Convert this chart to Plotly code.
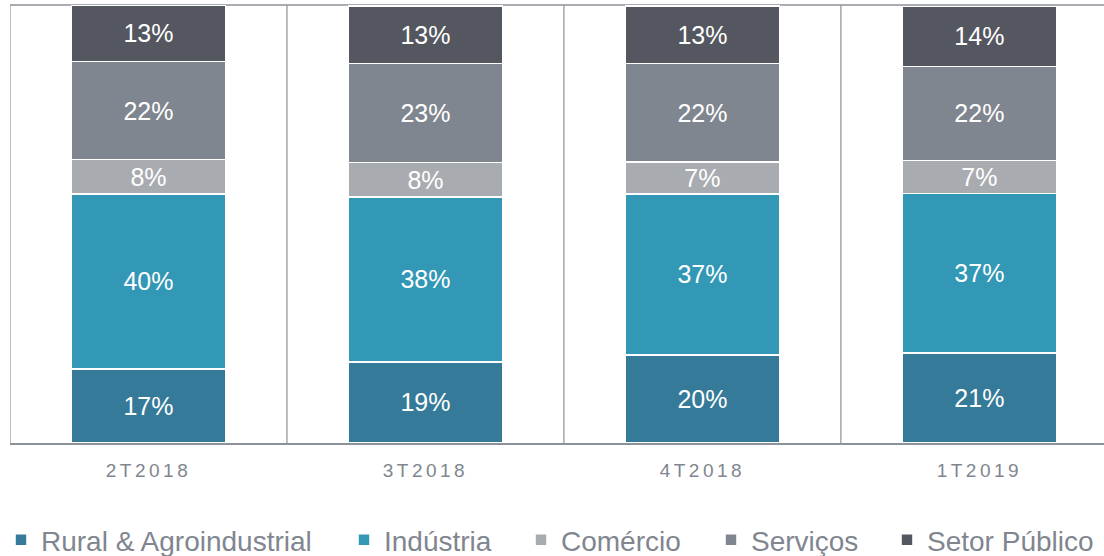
import plotly.graph_objects as go

categories = ["2T2018", "3T2018", "4T2018", "1T2019"]

rural = [16.9, 18.5, 20.1, 20.5]
industria = [40.0, 37.7, 36.8, 36.5]
comercio = [7.8, 7.8, 7.3, 7.5]
servicos = [22.4, 22.6, 22.4, 21.5]
setor_publico = [12.8, 13.2, 13.2, 13.7]

rural_lbl = ["17%", "19%", "20%", "21%"]
industria_lbl = ["40%", "38%", "37%", "37%"]
comercio_lbl = ["8%", "8%", "7%", "7%"]
servicos_lbl = ["22%", "23%", "22%", "22%"]
setor_lbl = ["13%", "13%", "13%", "14%"]

series_names = ["Rural & Agroindustrial", "Indústria", "Comércio", "Serviços", "Setor Público"]
series_values = [rural, industria, comercio, servicos, setor_publico]
series_labels = [rural_lbl, industria_lbl, comercio_lbl, servicos_lbl, setor_lbl]
series_colors = ["#357A99", "#3397B6", "#A8ACB1", "#7F868F", "#54575F"]

FONT = "Liberation Sans, Arial, sans-serif"
LINE = "#8C9299"
TXT = "#7F868F"

# legend entry left edges (px from figure left), one legend per series
legend_left_px = [1, 344, 521, 711, 887]
PLOT_L, PLOT_W = 10, 1094

fig = go.Figure()
legend_layouts = {}
for i, (name, vals, lbls, color) in enumerate(zip(series_names, series_values, series_labels, series_colors)):
    lg = "legend" if i == 0 else f"legend{i + 1}"
    fig.add_trace(go.Bar(
        name=name,
        x=list(range(len(categories))),
        y=vals,
        text=lbls,
        textposition="inside",
        insidetextanchor="middle",
        textangle=0,
        constraintext="none",
        textfont=dict(family=FONT, size=25, color="white"),
        marker=dict(color=color, line=dict(color="white", width=1.6)),
        width=0.556,
        hoverinfo="skip",
        legend=lg,
    ))
    legend_layouts[lg] = dict(
        orientation="h",
        x=(legend_left_px[i] - PLOT_L) / PLOT_W, xanchor="left",
        xref="paper",
        y=(556 - 540) / 556, yanchor="middle", yref="container",
        font=dict(family=FONT, size=28, color=TXT),
        itemwidth=30,
        bgcolor="rgba(0,0,0,0)",
        borderwidth=0,
    )

shapes = []
for xv in [-0.5, 0.5, 1.5, 2.5]:
    shapes.append(dict(type="line", xref="x", yref="paper", x0=xv, x1=xv, y0=0, y1=1,
                       line=dict(color=LINE, width=1.2), layer="below"))
shapes.append(dict(type="line", xref="paper", yref="paper", x0=0, x1=1, y0=1, y1=1,
                   line=dict(color=LINE, width=1.5), layer="below"))

tick_text = ['<span style="letter-spacing:3.5px">' + c + '</span>' for c in categories]

fig.update_layout(
    barmode="stack",
    width=1104, height=556,
    margin=dict(l=PLOT_L, r=0, t=5, b=113),
    paper_bgcolor="white", plot_bgcolor="white",
    font=dict(family=FONT, color=TXT),
    shapes=shapes,
    showlegend=True,
    xaxis=dict(
        range=[-0.5, 3.45],
        tickmode="array",
        tickvals=list(range(len(categories))),
        ticktext=tick_text,
        tickfont=dict(family=FONT, size=19, color=TXT),
        showgrid=False, zeroline=False,
        showline=True, linecolor=LINE, linewidth=2,
        ticks="outside", ticklen=9, tickcolor="rgba(0,0,0,0)",
        fixedrange=True,
    ),
    yaxis=dict(
        range=[0, 100],
        showgrid=False, zeroline=False, showticklabels=False,
        showline=False, fixedrange=True,
    ),
    **legend_layouts,
)

fig.write_html("out.html", config={"displayModeBar": False, "staticPlot": True},
               post_script="document.body.style.margin='0px';")
